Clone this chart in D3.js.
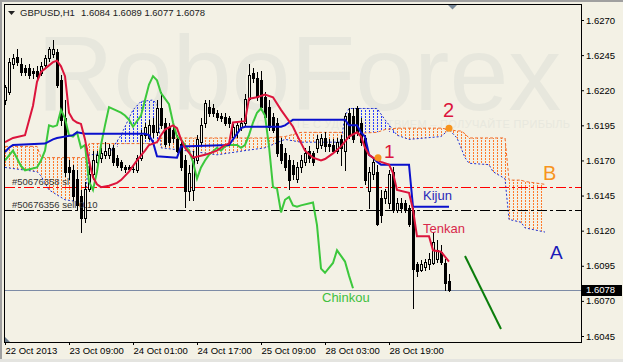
<!DOCTYPE html>
<html>
<head>
<meta charset="utf-8">
<script src="https://cdn.jsdelivr.net/npm/d3@7"></script>
<style>
  body { margin: 0; background: #f3f1e5; }
  svg { display: block; font-family: "Liberation Sans", Arial, sans-serif; }
</style>
</head>
<body>
<svg id="chart" width="623" height="362"></svg>
<script>
// ---- data (GBPUSD H1, one bar per hour) ----
let title = 'GBPUSD,H1';
let titleValues = '1.6084 1.6089 1.6077 1.6078';

let opens = [
  1.6213, 1.6219, 1.6239, 1.6244, 1.6239, 1.6236, 1.6236, 1.6234,
  1.6234, 1.6232, 1.6238, 1.6243, 1.6246, 1.6247, 1.6227, 1.6200,
  1.6165, 1.6163, 1.6157, 1.6145, 1.6129, 1.6150, 1.6160, 1.6169,
  1.6172, 1.6174, 1.6174, 1.6179, 1.6172, 1.6169, 1.6165, 1.6165,
  1.6164, 1.6163, 1.6172, 1.6188, 1.6186, 1.6195, 1.6190, 1.6207,
  1.6197, 1.6194, 1.6192, 1.6185, 1.6182, 1.6170, 1.6148, 1.6149,
  1.6170, 1.6183, 1.6197, 1.6208, 1.6207, 1.6204, 1.6202, 1.6201,
  1.6200, 1.6187, 1.6190, 1.6194, 1.6197, 1.6214, 1.6232, 1.6229,
  1.6227, 1.6215, 1.6208, 1.6201, 1.6197, 1.6182, 1.6175, 1.6170,
  1.6167, 1.6157, 1.6165, 1.6169, 1.6177, 1.6175, 1.6179, 1.6181,
  1.6186, 1.6182, 1.6181, 1.6177, 1.6185, 1.6177, 1.6204, 1.6202,
  1.6207, 1.6197, 1.6186, 1.6148, 1.6160, 1.6162, 1.6143, 1.6143,
  1.6140, 1.6162, 1.6135, 1.6140, 1.6140, 1.6136, 1.6135, 1.6096,
  1.6092, 1.6094, 1.6096, 1.6097, 1.6100, 1.6105, 1.6097, 1.6084
];
let highs = [
  1.6224, 1.6243, 1.6246, 1.6249, 1.6243, 1.6238, 1.6239, 1.6236,
  1.6237, 1.6240, 1.6245, 1.6251, 1.6256, 1.6249, 1.6231, 1.6213,
  1.6170, 1.6167, 1.6163, 1.6149, 1.6155, 1.6167, 1.6177, 1.6177,
  1.6179, 1.6183, 1.6182, 1.6181, 1.6174, 1.6170, 1.6167, 1.6167,
  1.6166, 1.6174, 1.6192, 1.6197, 1.6199, 1.6200, 1.6213, 1.6219,
  1.6200, 1.6197, 1.6195, 1.6188, 1.6185, 1.6174, 1.6167, 1.6177,
  1.6188, 1.6200, 1.6213, 1.6213, 1.6210, 1.6206, 1.6204, 1.6204,
  1.6202, 1.6196, 1.6198, 1.6200, 1.6217, 1.6239, 1.6236, 1.6233,
  1.6234, 1.6219, 1.6213, 1.6204, 1.6200, 1.6186, 1.6179, 1.6174,
  1.6170, 1.6169, 1.6174, 1.6179, 1.6180, 1.6177, 1.6188, 1.6189,
  1.6190, 1.6185, 1.6185, 1.6186, 1.6188, 1.6204, 1.6207, 1.6207,
  1.6209, 1.6200, 1.6188, 1.6165, 1.6172, 1.6167, 1.6149, 1.6150,
  1.6163, 1.6165, 1.6143, 1.6143, 1.6142, 1.6138, 1.6136, 1.6098,
  1.6099, 1.6100, 1.6104, 1.6119, 1.6113, 1.6110, 1.6100, 1.6089
];
let lows = [
  1.6210, 1.6217, 1.6236, 1.6238, 1.6231, 1.6231, 1.6229, 1.6229,
  1.6229, 1.6231, 1.6236, 1.6241, 1.6244, 1.6222, 1.6195, 1.6159,
  1.6157, 1.6142, 1.6135, 1.6119, 1.6126, 1.6148, 1.6157, 1.6167,
  1.6169, 1.6172, 1.6172, 1.6167, 1.6165, 1.6163, 1.6162, 1.6163,
  1.6162, 1.6162, 1.6170, 1.6186, 1.6185, 1.6187, 1.6188, 1.6193,
  1.6180, 1.6181, 1.6183, 1.6176, 1.6163, 1.6137, 1.6142, 1.6142,
  1.6168, 1.6181, 1.6194, 1.6202, 1.6202, 1.6199, 1.6198, 1.6195,
  1.6194, 1.6185, 1.6187, 1.6192, 1.6195, 1.6213, 1.6226, 1.6213,
  1.6206, 1.6199, 1.6192, 1.6190, 1.6173, 1.6168, 1.6163, 1.6150,
  1.6157, 1.6155, 1.6162, 1.6167, 1.6169, 1.6167, 1.6176, 1.6179,
  1.6177, 1.6177, 1.6175, 1.6175, 1.6167, 1.6163, 1.6186, 1.6183,
  1.6188, 1.6181, 1.6153, 1.6136, 1.6157, 1.6124, 1.6126, 1.6140,
  1.6136, 1.6133, 1.6133, 1.6133, 1.6133, 1.6123, 1.6065, 1.6088,
  1.6091, 1.6092, 1.6093, 1.6096, 1.6098, 1.6096, 1.6078, 1.6077
];
let closes = [
  1.6222, 1.6240, 1.6243, 1.6240, 1.6233, 1.6233, 1.6231, 1.6232,
  1.6230, 1.6237, 1.6243, 1.6249, 1.6249, 1.6224, 1.6199, 1.6162,
  1.6162, 1.6145, 1.6138, 1.6129, 1.6150, 1.6160, 1.6170, 1.6174,
  1.6175, 1.6177, 1.6179, 1.6169, 1.6167, 1.6165, 1.6164, 1.6164,
  1.6164, 1.6172, 1.6188, 1.6194, 1.6195, 1.6190, 1.6207, 1.6195,
  1.6182, 1.6183, 1.6186, 1.6177, 1.6165, 1.6148, 1.6161, 1.6172,
  1.6185, 1.6195, 1.6211, 1.6204, 1.6204, 1.6201, 1.6200, 1.6197,
  1.6197, 1.6194, 1.6195, 1.6197, 1.6214, 1.6231, 1.6229, 1.6215,
  1.6208, 1.6201, 1.6194, 1.6192, 1.6175, 1.6170, 1.6165, 1.6156,
  1.6160, 1.6165, 1.6170, 1.6175, 1.6172, 1.6169, 1.6185, 1.6186,
  1.6180, 1.6180, 1.6177, 1.6183, 1.6179, 1.6202, 1.6188, 1.6185,
  1.6190, 1.6183, 1.6156, 1.6162, 1.6169, 1.6125, 1.6131, 1.6148,
  1.6160, 1.6135, 1.6140, 1.6136, 1.6135, 1.6125, 1.6093, 1.6091,
  1.6096, 1.6098, 1.6100, 1.6112, 1.6106, 1.6098, 1.6083, 1.6078
];

// Ichimoku lines, [bar, price]
let tenkan = [
  [0,1.6183],[2,1.6186],[5,1.6188],[7,1.6209],[8,1.6226],[9,1.6233],[12,1.6240],[13,1.6241],
  [14,1.6237],[15,1.6230],[16,1.6204],[17,1.6199],[18,1.6197],[19,1.6196],[20,1.6185],[21,1.6170],
  [22,1.6158],[23,1.6153],[24,1.6151],[26,1.6152],[28,1.6154],[29,1.6156],[31,1.6162],[33,1.6170],
  [35,1.6177],[36,1.6181],[37,1.6182],[38,1.6183],[39,1.6188],[40,1.6192],[42,1.6195],[43,1.6193],
  [44,1.6185],[45,1.6179],[47,1.6172],[50,1.6174],[53,1.6177],[55,1.6181],[56,1.6182],[57,1.6197],
  [60,1.6198],[61,1.6214],[63,1.6215],[65,1.6217],[67,1.6215],[69,1.6206],[72,1.6194],[73,1.6188],
  [75,1.6177],[77,1.6172],[79,1.6170],[80,1.6171],[82,1.6175],[84,1.6180],[86,1.6187],[88,1.6190],
  [89,1.6187],[90,1.6179],[91,1.6174],[92,1.6172],[94,1.6169],[96,1.6167],[97,1.6161],[98,1.6149],
  [101,1.6147],[102,1.6135],[103,1.6116],[106,1.6116],[107,1.6106],[109,1.6105],[111,1.6098]
];
let kijun = [
  [0,1.6176],[1,1.6179],[2,1.6181],[10,1.6182],[12,1.6185],[13,1.6186],[17,1.6188],[18,1.6190],
  [20,1.6189],[35,1.6189],[36,1.6188],[37,1.6183],[38,1.6173],[43,1.6172],[44,1.6180],[56,1.6181],
  [57,1.6185],[59,1.6193],[60,1.6194],[69,1.6194],[70,1.6195],[71,1.6197],[72,1.6199],[85,1.6199],
  [86,1.6195],[88,1.6195],[89,1.6190],[90,1.6187],[91,1.6174],[92,1.6172],[93,1.6169],[94,1.6167],
  [101,1.6167],[102,1.6137],[111,1.6137]
];
let chinkou = [
  [0,1.6170],[2,1.6177],[4,1.6166],[5,1.6163],[8,1.6165],[9,1.6170],[10,1.6177],[11,1.6195],
  [12,1.6194],[13,1.6195],[14,1.6206],[15,1.6200],[16,1.6188],[17,1.6187],[18,1.6190],[19,1.6179],
  [20,1.6181],[21,1.6155],[22,1.6149],[23,1.6162],[24,1.6181],[25,1.6195],[26,1.6208],[29,1.6204],
  [30,1.6202],[31,1.6199],[32,1.6194],[34,1.6202],[35,1.6213],[36,1.6224],[37,1.6230],[38,1.6227],
  [39,1.6218],[40,1.6214],[41,1.6210],[42,1.6197],[43,1.6187],[44,1.6185],[45,1.6181],[46,1.6177],
  [47,1.6169],[48,1.6157],[49,1.6165],[50,1.6170],[51,1.6174],[53,1.6179],[54,1.6177],[55,1.6180],
  [56,1.6181],[58,1.6181],[59,1.6179],[60,1.6181],[61,1.6188],[62,1.6197],[63,1.6204],[64,1.6207],
  [65,1.6202],[66,1.6180],[67,1.6151],[68,1.6150],[69,1.6133],[70,1.6142],[71,1.6144],[72,1.6138],
  [73,1.6137],[74,1.6138],[77,1.6140],[78,1.6124],[79,1.6093],[80,1.6090],[82,1.6097],[83,1.6106],
  [84,1.6102],[85,1.6098],[86,1.6088],[87,1.6079]
];
// kumo: [bar, senkou span A, senkou span B]
let kumo = [
  [0,1.6180,1.6165],[8,1.6180,1.6162],[9,1.6172,1.6159],[11,1.6172,1.6149],[15,1.6172,1.6142],
  [20,1.6172,1.6140],[21,1.6182,1.6174],[26,1.6182,1.6175],[29,1.6182,1.6188],[32,1.6182,1.6206],
  [34,1.6182,1.6212],[37,1.6182,1.6213],[38,1.6183,1.6210],[39,1.6186,1.6179],[48,1.6186,1.6176],
  [53,1.6186,1.6174],[60,1.6186,1.6177],[65,1.6186,1.6179],[70,1.6187,1.6185],[74,1.6190,1.6183],
  [84,1.6190,1.6183],[85,1.6189,1.6202],[86,1.6189,1.6207],[93,1.6190,1.6207],[95,1.6192,1.6199],
  [98,1.6193,1.6188],[101,1.6193,1.6185],[109,1.6193,1.6187],[111,1.6192,1.6192],[113,1.6191,1.6186],
  [114,1.6191,1.6179],[115,1.6189,1.6172],[116,1.6186,1.6168],[121,1.6186,1.6167],[122,1.6186,1.6162],
  [125,1.6186,1.6157],[126,1.6156,1.6128],[129,1.6156,1.6126],[130,1.6155,1.6122],[135,1.6153,1.6119]
];

let priceTicks = [1.6045, 1.6070, 1.6095, 1.6120, 1.6145, 1.6170, 1.6195, 1.6220, 1.6245, 1.6270];
let timeBars = [0, 16, 32, 48, 64, 80, 96];
let timeLabels = ['22 Oct 2013', '23 Oct 09:00', '24 Oct 01:00', '24 Oct 17:00', '25 Oct 09:00', '28 Oct 03:00', '28 Oct 19:00'];

let orderLabels = ['#50676358 sl', '#50676356 sell 0.10'];
let orderPrices = [1.6151, 1.6135];
let lastPrice = 1.6078;

let noteTexts = ['1', '2', 'B', 'A', 'Kijun', 'Tenkan', 'Chinkou'];
let noteBars = [94.75, 109.5, 134.5, 136.25, 104.5, 104.5, 79.25];
let notePrices = [1.6172, 1.6201, 1.6156, 1.6100, 1.6142, 1.6118, 1.6069];
let dotBars = [93.25, 111];
let dotPrices = [1.6172, 1.6193];
let trendBars = [115, 124];
let trendPrices = [1.6102, 1.6050];

let watermark = 'RoboForex';
let slogan = 'ТОРГУЙТЕ С УДОВОЛЬСТВИЕМ – ПОЛУЧАЙТЕ ПРИБЫЛЬ';

// ---- drawing ----
let bg = '#f3f1e5';
let svg = d3.select('#chart');
let x = d3.scaleLinear().domain([0, 1]).range([5, 9]);          // 4 px per bar
let y = d3.scaleLinear().domain([1.6045, 1.6270]).range([336, 20]);

svg.append('rect').attr('width', 623).attr('height', 362).attr('fill', bg);
svg.append('rect').attr('x', 0).attr('y', 0).attr('width', 623).attr('height', 2).attr('fill', '#a0a0a0');
svg.append('rect').attr('x', 0).attr('y', 0).attr('width', 2).attr('height', 362).attr('fill', '#a0a0a0');
svg.append('rect').attr('x', 0).attr('y', 359).attr('width', 623).attr('height', 3).attr('fill', '#e4e4e0');

let defs = svg.append('defs');
defs.append('clipPath').attr('id', 'plotClip')
    .append('rect').attr('x', 5).attr('y', 5).attr('width', 576).attr('height', 337);

// watermark
svg.append('text').attr('x', 37).attr('y', 110)
    .attr('font-size', 106).attr('fill', '#e7e7dd').text(watermark);
svg.append('text').attr('x', 250).attr('y', 128).attr('font-size', 11)
    .attr('textLength', 320).attr('fill', '#e8e8de').text(slogan);

let plot = svg.append('g').attr('clip-path', 'url(#plotClip)');

// kumo hatching: short vertical dashes at every bar, clipped to the band between the spans
let upArea = d3.area()
    .x(d => x(d[0]))
    .y0(d => y(Math.min(d[1], d[2])))
    .y1(d => y(d[1]));
let downArea = d3.area()
    .x(d => x(d[0]))
    .y0(d => y(Math.min(d[1], d[2])))
    .y1(d => y(d[2]));
let kumoRange = d3.range(kumo[0][0], kumo[kumo.length - 1][0] + 1);
let dashRows = d3.range(5, 342, 3);
let hatch = (id, area, color) => {
    defs.append('clipPath').attr('id', id).append('path').attr('d', area(kumo));
    let hg = plot.append('g').attr('clip-path', 'url(#' + id + ')').attr('fill', color);
    kumoRange.forEach(i => {
        hg.append('g').selectAll('rect').data(dashRows).enter().append('rect')
            .attr('x', x(i)).attr('y', r => r).attr('width', 1).attr('height', 2);
    });
};
hatch('kumoUp', upArea, '#ff7a2a');
hatch('kumoDown', downArea, '#2a3cff');

let spanALine = d3.line().x(d => x(d[0])).y(d => y(d[1]));
let spanBLine = d3.line().x(d => x(d[0])).y(d => y(d[2]));
plot.append('path').datum(kumo).attr('d', spanALine)
    .attr('fill', 'none').attr('stroke', '#f06a28').attr('stroke-width', 1).attr('stroke-dasharray', '3,2');
plot.append('path').datum(kumo).attr('d', spanBLine)
    .attr('fill', 'none').attr('stroke', '#2030d0').attr('stroke-width', 1).attr('stroke-dasharray', '2,2');

// order lines
let orderColors = ['#ff0000', '#000000'];
orderPrices.forEach((p, k) => {
    let yy = Math.round(y(p)) + 0.5;
    plot.append('line').attr('x1', 5).attr('x2', 581).attr('y1', yy).attr('y2', yy)
        .attr('stroke', orderColors[k]).attr('stroke-dasharray', '10,3,3,3')
        .attr('shape-rendering', 'crispEdges');
});

// current price line
let lpY = Math.round(y(lastPrice)) + 0.5;
plot.append('line').attr('x1', 5).attr('x2', 581).attr('y1', lpY).attr('y2', lpY)
    .attr('stroke', '#7d8ca6').attr('shape-rendering', 'crispEdges');

// candles
let candles = opens.map((o, i) => ({ i: i, o: o, h: highs[i], l: lows[i], c: closes[i] }));
let cg = plot.append('g').attr('shape-rendering', 'crispEdges');
cg.selectAll('line.wick').data(candles).enter().append('line')
    .attr('class', 'wick')
    .attr('x1', d => x(d.i) + 0.5).attr('x2', d => x(d.i) + 0.5)
    .attr('y1', d => Math.round(y(d.h))).attr('y2', d => Math.round(y(d.l)) + 1)
    .attr('stroke', '#000');
cg.selectAll('rect.bear').data(candles.filter(d => d.c < d.o)).enter().append('rect')
    .attr('class', 'bear')
    .attr('x', d => x(d.i) - 1).attr('width', 3)
    .attr('y', d => Math.round(y(d.o)))
    .attr('height', d => Math.max(1, Math.round(y(d.c)) - Math.round(y(d.o)) + 1))
    .attr('fill', '#000');
cg.selectAll('rect.bull').data(candles.filter(d => d.c > d.o)).enter().append('rect')
    .attr('class', 'bull')
    .attr('x', d => x(d.i) - 0.5).attr('width', 2)
    .attr('y', d => Math.round(y(d.c)) + 0.5)
    .attr('height', d => Math.max(0, Math.round(y(d.o)) - Math.round(y(d.c))))
    .attr('fill', bg).attr('stroke', '#000');
cg.selectAll('line.doji').data(candles.filter(d => d.c === d.o)).enter().append('line')
    .attr('class', 'doji')
    .attr('x1', d => x(d.i) - 1).attr('x2', d => x(d.i) + 2)
    .attr('y1', d => Math.round(y(d.o)) + 0.5).attr('y2', d => Math.round(y(d.o)) + 0.5)
    .attr('stroke', '#000');

// ichimoku lines
let lineGen = d3.line().x(d => x(d[0])).y(d => y(d[1]));
plot.append('path').datum(chinkou).attr('d', lineGen)
    .attr('fill', 'none').attr('stroke', '#3cc83c').attr('stroke-width', 2);
plot.append('path').datum(kijun).attr('d', lineGen)
    .attr('fill', 'none').attr('stroke', '#0a10cc').attr('stroke-width', 2);
plot.append('path').datum(tenkan).attr('d', lineGen)
    .attr('fill', 'none').attr('stroke', '#dc143c').attr('stroke-width', 2);

// trend line
plot.append('line')
    .attr('x1', x(trendBars[0])).attr('y1', y(trendPrices[0]))
    .attr('x2', x(trendBars[1])).attr('y2', y(trendPrices[1]))
    .attr('stroke', '#0b7d0b').attr('stroke-width', 2);

// order labels
orderPrices.forEach((p, k) => {
    plot.append('text').attr('x', 12).attr('y', y(p) - 2)
        .attr('font-size', 9.5).attr('fill', '#333').text(orderLabels[k]);
});

// orange dots
dotBars.forEach((b, k) => {
    plot.append('circle').attr('cx', x(b)).attr('cy', y(dotPrices[k])).attr('r', 3.5).attr('fill', '#f7941d');
});

// annotations
let noteStyle = {
    '1': ['#dc143c', 19], '2': ['#dc143c', 20], 'B': ['#f7941d', 20], 'A': ['#1a1ab8', 19],
    'Kijun': ['#2828b8', 13], 'Tenkan': ['#d8284a', 13], 'Chinkou': ['#40c040', 13]
};
noteTexts.forEach((t, k) => {
    plot.append('text').attr('x', x(noteBars[k])).attr('y', y(notePrices[k]))
        .attr('fill', noteStyle[t][0]).attr('font-size', noteStyle[t][1]).text(t);
});

// shift markers
svg.append('path').attr('d', 'M448,5 L457,5 L452.5,9.5 Z').attr('fill', '#7a8a9a');
svg.append('path').attr('d', 'M5,337 L5,342 L10,342 Z').attr('fill', '#6a7a8a');

// frame
svg.append('rect').attr('x', 4.5).attr('y', 4.5).attr('width', 577).attr('height', 338)
    .attr('fill', 'none').attr('stroke', '#000').attr('shape-rendering', 'crispEdges');

// right price axis
let yAxis = d3.axisRight(y).tickValues(priceTicks).tickFormat(d3.format('.4f')).tickSize(3).tickPadding(2);
let ya = svg.append('g').attr('transform', 'translate(581,0)').call(yAxis);
ya.select('.domain').remove();
ya.selectAll('text').attr('font-size', 9.5).attr('fill', '#000').attr('font-family', '"Liberation Sans", Arial, sans-serif');

// last price box
svg.append('rect').attr('x', 582).attr('y', Math.round(y(lastPrice)) - 5).attr('width', 40).attr('height', 11).attr('fill', '#000');
svg.append('text').attr('x', 586).attr('y', y(lastPrice) + 3.5).attr('font-size', 9.5).attr('fill', '#fff')
    .text(d3.format('.4f')(lastPrice));

// bottom time axis
let xAxis = d3.axisBottom(x).tickValues(timeBars).tickFormat((d, k) => timeLabels[k]).tickSize(3).tickPadding(2);
let xa = svg.append('g').attr('transform', 'translate(0,342)').call(xAxis);
xa.select('.domain').remove();
xa.selectAll('text').attr('text-anchor', 'start').attr('x', 0).attr('font-size', 9.5)
    .attr('fill', '#000').attr('font-family', '"Liberation Sans", Arial, sans-serif');

// title
svg.append('path').attr('d', 'M8,11 L15,11 L11.5,15 Z').attr('fill', '#222');
svg.append('text').attr('x', 20).attr('y', 16).attr('font-size', 9.5).attr('fill', '#222').text(title);
svg.append('text').attr('x', 81).attr('y', 16).attr('font-size', 9.5).attr('fill', '#222').text(titleValues);
</script>
</body>
</html>
